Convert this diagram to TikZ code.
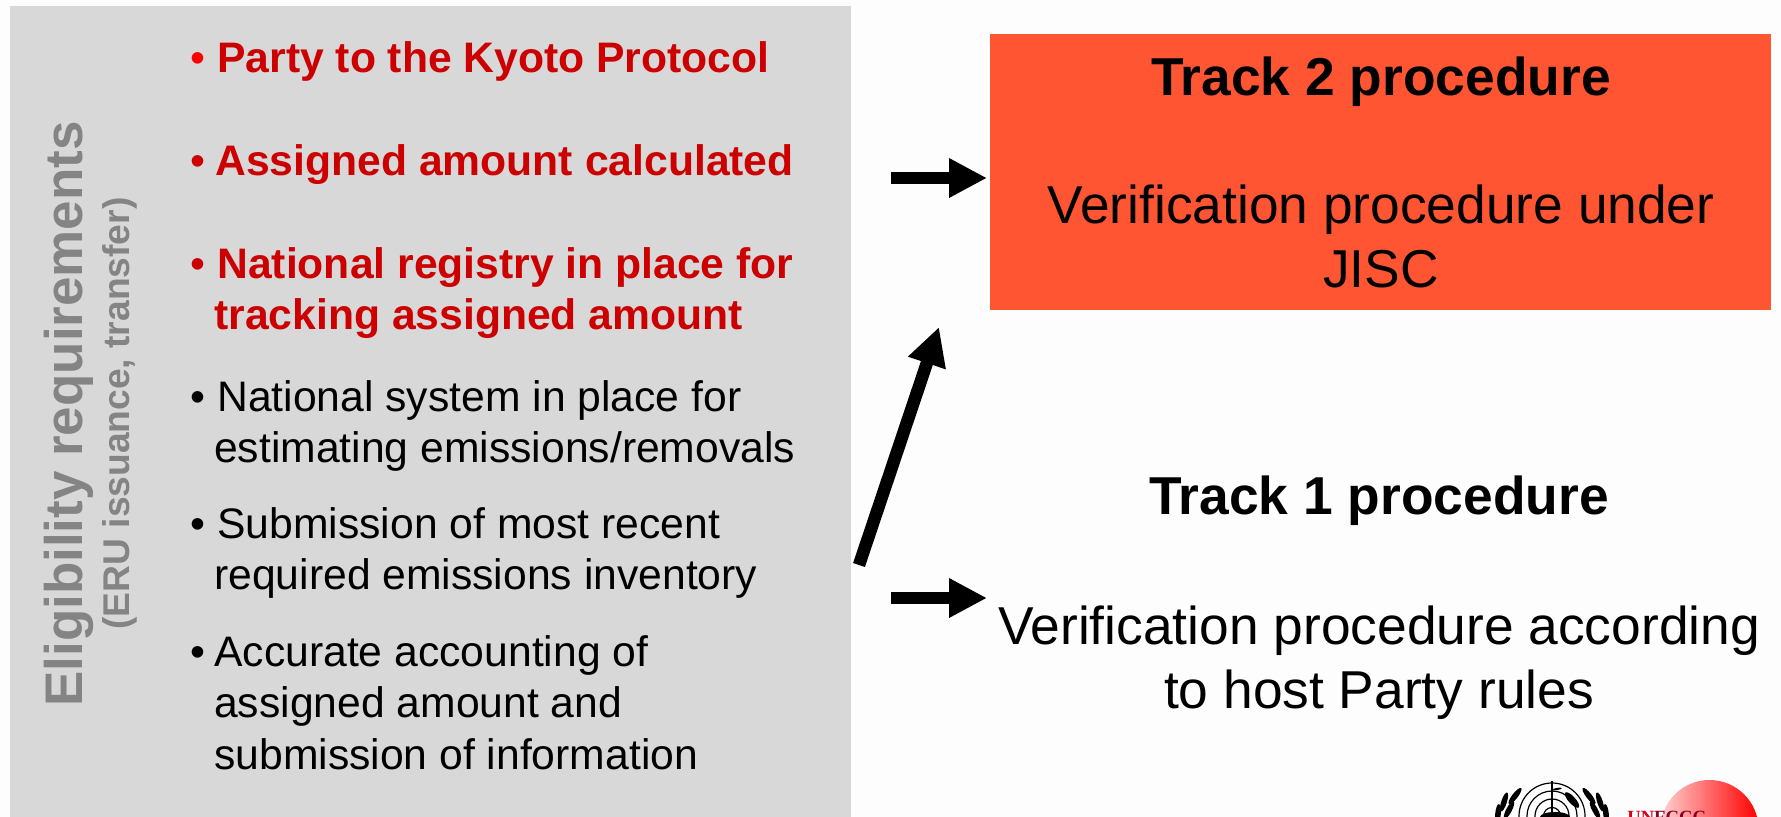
\documentclass[tikz,border=0pt]{standalone}
\usepackage{fontspec}
\setmainfont{Liberation Sans}
\newfontfamily\logoserif{Liberation Serif}
\usetikzlibrary{arrows.meta,shadings,calc}
\definecolor{panel}{HTML}{D8D8D8}
\definecolor{redtxt}{HTML}{CC0000}
\definecolor{redbul}{HTML}{FF0000}
\definecolor{boxred}{HTML}{FF5533}
\definecolor{greytxt}{HTML}{848484}
\definecolor{pagebg}{HTML}{FDFDFD}
\definecolor{logored}{HTML}{D80018}
\definecolor{logodark}{HTML}{8A0028}
\tikzset{
  x=0.75pt,y=-0.75pt,
  item/.style={anchor=base west,inner sep=0pt,font=\fontsize{32}{38.2}\selectfont,align=left},
  reditem/.style={item,text=redtxt,font=\fontsize{32}{38.2}\selectfont\bfseries},
  bul/.style={anchor=base west,inner sep=0pt,font=\fontsize{32}{38.2}\selectfont},
  title/.style={anchor=base,inner sep=0pt,font=\fontsize{40}{47}\selectfont\bfseries},
  body/.style={anchor=base,inner sep=0pt,align=center,font=\fontsize{40}{63}\selectfont},
  fatarrow/.style={draw=black,line width=12.5*0.75pt,-{Triangle[length=38*0.75pt,width=37*0.75pt]}},
  leaf/.style={fill=black},
  ring/.style={draw=black,line width=0.9pt},
}
\begin{document}
\begin{tikzpicture}
\useasboundingbox (0,0) rectangle (1781,817);
\fill[pagebg] (0,0) rectangle (1781,817);
\fill[panel] (10,6) rectangle (851,817);
\fill[boxred] (990,34) rectangle (1771,310);

\node[anchor=base,rotate=90,inner sep=0pt,text=greytxt,font=\fontsize{39.7}{40}\selectfont\bfseries] (elig) at (82,414) {Eligibility requirements};
\node[anchor=base,rotate=90,inner sep=0pt,text=greytxt,font=\fontsize{27.9}{30}\selectfont\bfseries] (eru) at (129.5,413.5) {(ERU issuance, transfer)};

\node[bul,text=redbul] (b1) at (190,73) {•};
\node[reditem] (t1) at (217,73) {Party to the Kyoto Protocol};
\node[bul,text=redtxt] (b2) at (190,175) {•};
\node[reditem] (t2) at (215,175) {Assigned amount calculated};
\node[bul,text=redtxt] (b3) at (190,278) {•};
\node[reditem] (t3) at (217,278) {National registry in place for};
\node[reditem] (t3b) at (214,329) {tracking assigned amount};
\node[bul] (b4) at (190,411) {•};
\node[item] (t4) at (217,411) {National system in place for};
\node[item] (t4b) at (214,462) {estimating emissions/removals};
\node[bul] (b5) at (190,538) {•};
\node[item] (t5) at (217,538) {Submission of most recent};
\node[item] (t5b) at (214,589) {required emissions inventory};
\node[bul] (b6) at (190,666) {•};
\node[item] (t6) at (214,666) {Accurate accounting of};
\node[item] (t6b) at (214,717) {assigned amount and};
\node[item] (t6c) at (214,769) {submission of information};

\node[title] (tr2) at (1381,95.5) {Track 2 procedure};
\node[body] (v2a) at (1381,223.5) {Verification procedure under};
\node[body] (v2b) at (1381,287.5) {JISC};
\node[title] (tr1) at (1379,514.5) {Track 1 procedure};
\node[body] (v1a) at (1379,644.5) {Verification procedure according};
\node[body] (v1b) at (1379,708.5) {to host Party rules};

\coordinate (a1s) at (891,178); \coordinate (a1e) at (987,178);
\coordinate (a2s) at (859,565); \coordinate (a2e) at (939,327);
\coordinate (a3s) at (891,598); \coordinate (a3e) at (987,598);
\draw[fatarrow] (a1s) -- (a1e);
\draw[fatarrow] (a2s) -- (a2e);
\draw[fatarrow] (a3s) -- (a3e);

% logos, cut by the page bottom
\begin{scope}
\clip (1480,770) rectangle (1781,817);
% UN emblem
\foreach \r in {33,25,17,8.5} \draw[ring] (1552,816) circle [radius=\r];
\foreach \a in {45,135} \draw[ring] ($(1552,816)+(\a:33)$) -- (1552,816);
\draw[ring] (1552,781) -- (1552,816);
\foreach \px/\py/\rot in {1589/796/-52,1600/802/-72,1595/810/-62,1606/814/-85}{
  \fill[leaf,shift={(\px,\py)},rotate=\rot] (0,0) ellipse [x radius=10,y radius=2.8];
}
\foreach \px/\py/\rot in {1515/796/52,1504/802/72,1509/810/62,1498/814/85}{
  \fill[leaf,shift={(\px,\py)},rotate=\rot] (0,0) ellipse [x radius=10,y radius=2.8];
}
\fill[black,shift={(1572,800)},rotate=-48] (0,0) ellipse [x radius=10,y radius=3.5];
\fill[black] (1555,817) ellipse [x radius=15,y radius=5];
\fill[black,shift={(1557,789)},rotate=10] (0,0) ellipse [x radius=5,y radius=1.1];
% sphere and name
\shade[left color=red!18!white,right color=red] (1709.5,829) circle [radius=49];
\node[anchor=base west,inner sep=0pt,font=\logoserif\fontsize{14}{16}\selectfont\bfseries] (unf) at (1627,823.5) {\textcolor{logored}{UN}\textcolor{logodark}{FCCC}};
\end{scope}
\end{tikzpicture}
\end{document}
